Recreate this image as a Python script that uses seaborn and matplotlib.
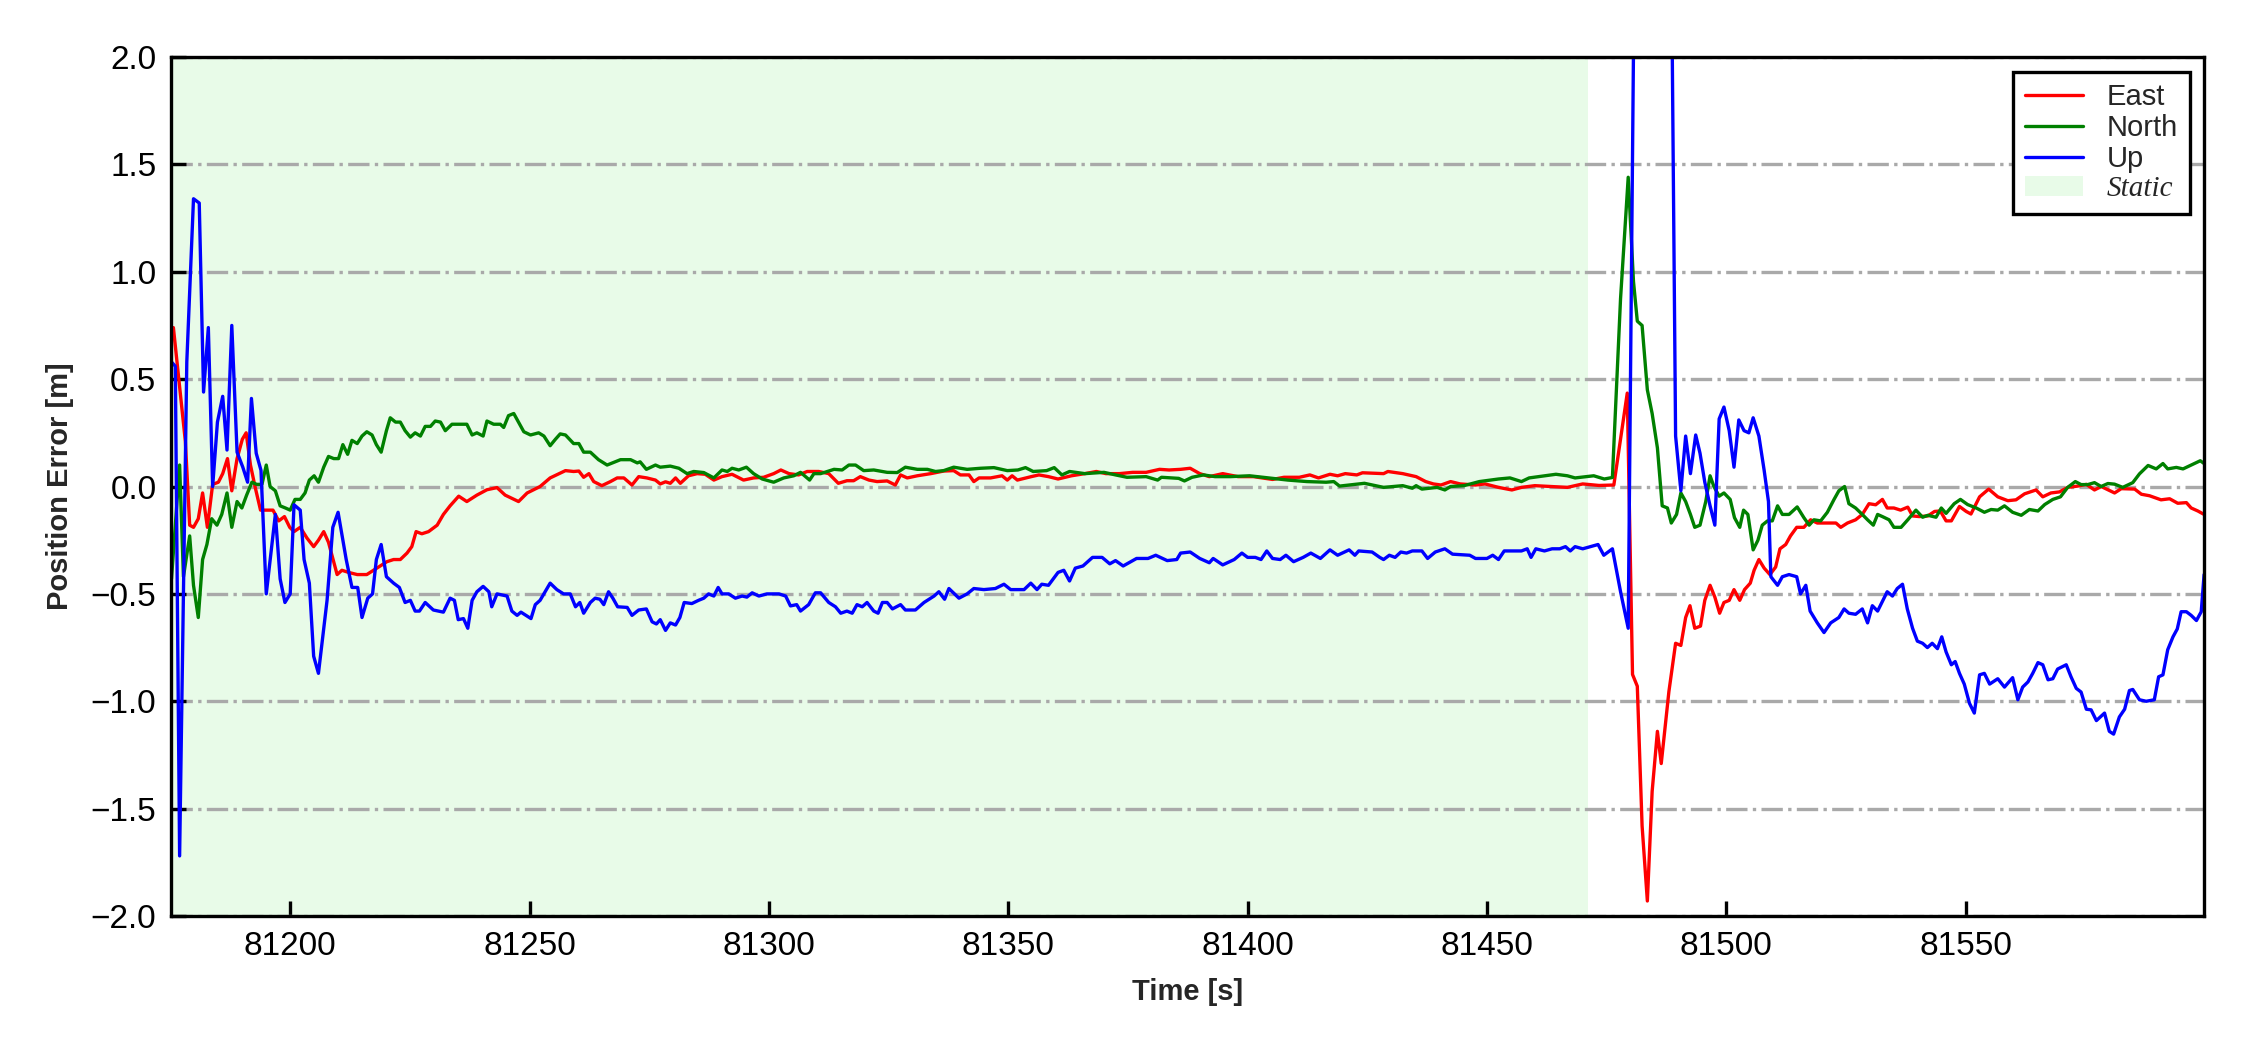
import matplotlib
matplotlib.use("Agg")
import matplotlib.pyplot as plt
import seaborn as sns

# East error
east_t = [81175.1, 81175.6, 81177.1, 81178.1, 81179.0, 81179.8, 81180.8, 81181.7, 81182.7, 81183.8,
          81185.0, 81185.9, 81186.9, 81187.8, 81188.9, 81190.0, 81190.8, 81191.7, 81192.7, 81193.8,
          81195.2, 81196.4, 81197.6, 81198.8, 81199.9, 81200.8, 81202.1, 81203.5, 81204.9, 81205.9,
          81207.0, 81208.0, 81209.8, 81210.8, 81212.2, 81214.0, 81216.0, 81217.4, 81218.8, 81220.2,
          81221.6, 81223.0, 81224.4, 81225.4, 81226.3, 81227.5, 81228.9, 81230.7, 81232.0, 81233.4,
          81235.2, 81236.9, 81239.0, 81241.1, 81243.2, 81244.9, 81247.7, 81249.5, 81252.2, 81254.3,
          81255.7, 81257.5, 81259.2, 81260.3, 81261.3, 81262.4, 81263.4, 81265.1, 81266.9, 81268.3,
          81269.7, 81271.4, 81272.8, 81274.5, 81276.3, 81277.3, 81278.4, 81279.4, 81280.5, 81281.5,
          81283.2, 81285.0, 81286.7, 81288.5, 81290.2, 81292.3, 81294.7, 81296.8, 81298.9, 81301.0,
          81302.5, 81304.2, 81306.2, 81308.0, 81310.4, 81312.5, 81314.5, 81316.3, 81317.7, 81319.1,
          81320.9, 81322.6, 81324.7, 81326.4, 81327.5, 81328.9, 81331.0, 81333.8, 81336.5, 81338.6,
          81340.0, 81341.8, 81342.8, 81343.9, 81346.3, 81348.7, 81349.8, 81350.8, 81351.9, 81354.8,
          81356.4, 81358.4, 81360.4, 81363.2, 81366.0, 81368.4, 81370.4, 81373.2, 81376.0, 81378.8,
          81381.6, 81383.6, 81386.0, 81388.0, 81390.0, 81392.0, 81394.8, 81398.0, 81401.2, 81405.2,
          81407.6, 81410.8, 81413.0, 81414.8, 81417.2, 81418.8, 81420.4, 81422.8, 81424.0, 81428.4,
          81429.3, 81432.4, 81435.2, 81437.2, 81438.8, 81440.4, 81442.4, 81444.4, 81447.6, 81449.6,
          81452.4, 81455.2, 81457.2, 81460.0, 81463.6, 81466.8, 81470.0, 81473.4, 81476.5, 81479.3,
          81480.4, 81481.4, 81482.4, 81483.5, 81484.5, 81485.6, 81486.4, 81488.0, 81489.4, 81490.5,
          81491.5, 81492.4, 81493.4, 81494.6, 81495.5, 81496.6, 81497.6, 81498.6, 81499.5, 81500.6,
          81501.6, 81502.8, 81503.8, 81505.0, 81505.8, 81506.8, 81507.9, 81509.1, 81510.3, 81511.2,
          81512.4, 81513.4, 81514.7, 81516.2, 81517.6, 81519.0, 81521.1, 81522.9, 81523.9, 81525.3,
          81527.0, 81528.4, 81529.8, 81531.2, 81532.6, 81533.6, 81535.0, 81536.4, 81537.9, 81538.9,
          81540.3, 81542.1, 81543.5, 81544.7, 81545.9, 81547.0, 81548.7, 81550.1, 81551.1, 81552.9,
          81554.8, 81556.7, 81558.8, 81560.5, 81562.3, 81564.7, 81566.1, 81567.8, 81569.6, 81571.3,
          81573.4, 81575.2, 81576.9, 81578.3, 81581.1, 81582.5, 81585.3, 81586.7, 81588.4, 81590.8,
          81592.6, 81594.3, 81596.1, 81597.1, 81598.5, 81599.8]
east_err = [0.72, 0.74, 0.42, 0.21, -0.18, -0.19, -0.15, -0.03, -0.19, 0.01,
            0.02, 0.06, 0.13, -0.02, 0.13, 0.22, 0.25, 0.10, -0.005, -0.11,
            -0.11, -0.11, -0.16, -0.14, -0.19, -0.21, -0.19, -0.24, -0.28, -0.25,
            -0.21, -0.26, -0.41, -0.39, -0.40, -0.41, -0.41, -0.39, -0.37, -0.35,
            -0.34, -0.34, -0.31, -0.28, -0.21, -0.22, -0.21, -0.18, -0.13, -0.09,
            -0.045, -0.07, -0.04, -0.015, -0.005, -0.04, -0.07, -0.03, 0.0, 0.04,
            0.055, 0.074, 0.07, 0.072, 0.043, 0.06, 0.023, 0.004, 0.023, 0.04,
            0.04, 0.007, 0.046, 0.04, 0.03, 0.012, 0.022, 0.015, 0.04, 0.015,
            0.05, 0.06, 0.057, 0.03, 0.046, 0.057, 0.03, 0.04, 0.043, 0.06,
            0.077, 0.06, 0.054, 0.07, 0.07, 0.06, 0.015, 0.027, 0.027, 0.046,
            0.03, 0.023, 0.026, 0.007, 0.054, 0.04, 0.05, 0.06, 0.072, 0.074,
            0.054, 0.054, 0.023, 0.04, 0.04, 0.05, 0.03, 0.05, 0.03, 0.046,
            0.054, 0.046, 0.035, 0.05, 0.06, 0.07, 0.06, 0.06, 0.066, 0.066,
            0.08, 0.077, 0.08, 0.085, 0.06, 0.046, 0.06, 0.046, 0.046, 0.033,
            0.043, 0.043, 0.054, 0.04, 0.057, 0.05, 0.06, 0.054, 0.064, 0.06,
            0.07, 0.06, 0.046, 0.023, 0.012, 0.007, 0.023, 0.012, 0.007, 0.012,
            -0.004, -0.016, -0.004, 0.004, 0.0, -0.004, 0.012, 0.005, 0.007, 0.435,
            -0.875, -0.93, -1.58, -1.93, -1.42, -1.14, -1.29, -0.955, -0.73, -0.74,
            -0.61, -0.555, -0.66, -0.65, -0.53, -0.46, -0.515, -0.59, -0.54, -0.53,
            -0.48, -0.53, -0.48, -0.45, -0.39, -0.34, -0.38, -0.41, -0.375, -0.29,
            -0.27, -0.23, -0.19, -0.19, -0.155, -0.17, -0.17, -0.17, -0.19, -0.17,
            -0.155, -0.13, -0.08, -0.085, -0.06, -0.10, -0.10, -0.11, -0.096, -0.137,
            -0.14, -0.137, -0.116, -0.114, -0.16, -0.16, -0.093, -0.116, -0.128, -0.048,
            -0.012, -0.048, -0.066, -0.062, -0.034, -0.016, -0.048, -0.03, -0.025, -0.004,
            0.002, 0.01, -0.016, 0.0, -0.03, -0.01, -0.012, -0.036, -0.043, -0.062,
            -0.057, -0.078, -0.075, -0.10, -0.114, -0.13]

# North error
north_t = [81175.2, 81176.9, 81177.7, 81179.0, 81179.8, 81180.8, 81181.7, 81182.6, 81183.6, 81184.7,
           81185.7, 81186.8, 81187.8, 81188.9, 81189.9, 81190.9, 81192.0, 81193.0, 81194.1, 81195.0,
           81195.8, 81196.9, 81197.9, 81199.0, 81200.0, 81201.0, 81202.1, 81203.1, 81204.0, 81205.0,
           81205.9, 81207.0, 81208.0, 81209.1, 81210.1, 81211.0, 81212.0, 81212.9, 81214.0, 81215.0,
           81216.0, 81217.1, 81218.0, 81219.0, 81220.1, 81220.9, 81222.0, 81223.0, 81224.0, 81225.1,
           81226.1, 81227.2, 81228.2, 81229.3, 81230.3, 81231.4, 81232.4, 81233.8, 81235.5, 81236.9,
           81238.0, 81239.0, 81240.3, 81241.1, 81242.5, 81243.9, 81244.6, 81245.6, 81246.7, 81247.7,
           81248.8, 81250.2, 81251.9, 81253.0, 81254.3, 81255.4, 81256.4, 81257.5, 81259.2, 81260.3,
           81261.3, 81262.7, 81264.4, 81266.2, 81267.9, 81269.0, 81271.1, 81272.5, 81273.1, 81274.4,
           81276.3, 81277.3, 81279.4, 81281.2, 81282.9, 81284.3, 81286.4, 81288.5, 81290.2, 81291.3,
           81292.3, 81293.7, 81295.3, 81296.8, 81298.6, 81301.0, 81303.1, 81305.2, 81306.6, 81308.5,
           81309.4, 81310.8, 81312.2, 81313.6, 81315.3, 81316.7, 81318.1, 81319.8, 81321.9, 81324.7,
           81326.8, 81328.5, 81331.0, 81333.1, 81334.8, 81336.5, 81338.6, 81341.4, 81344.2, 81347.0,
           81349.8, 81352.0, 81353.6, 81355.2, 81358.0, 81359.6, 81361.2, 81362.8, 81366.0, 81370.0,
           81372.4, 81374.8, 81378.8, 81381.2, 81382.0, 81385.6, 81386.8, 81388.4, 81390.8, 81393.2,
           81396.4, 81400.4, 81404.4, 81408.4, 81412.4, 81416.4, 81418.0, 81419.2, 81424.4, 81428.4,
           81432.4, 81434.4, 81435.2, 81436.4, 81439.6, 81441.2, 81442.4, 81445.2, 81448.4, 81452.4,
           81454.8, 81457.2, 81458.8, 81462.0, 81464.4, 81466.8, 81468.4, 81470.8, 81472.3, 81474.5,
           81476.2, 81477.9, 81479.5, 81480.6, 81481.4, 81482.4, 81483.5, 81484.5, 81485.6, 81486.6,
           81487.7, 81488.5, 81489.6, 81490.5, 81491.5, 81492.5, 81493.4, 81494.5, 81495.7, 81496.6,
           81497.4, 81498.5, 81499.5, 81500.8, 81501.7, 81502.8, 81503.6, 81504.5, 81505.6, 81506.6,
           81507.5, 81508.6, 81509.6, 81510.7, 81511.7, 81513.1, 81514.8, 81516.2, 81517.3, 81518.3,
           81519.7, 81521.1, 81522.5, 81523.5, 81524.7, 81525.6, 81527.0, 81528.4, 81529.5, 81530.7,
           81531.6, 81532.6, 81534.0, 81535.0, 81536.5, 81537.9, 81539.6, 81541.0, 81542.1, 81543.8,
           81544.9, 81545.9, 81547.6, 81548.9, 81550.4, 81552.2, 81553.9, 81555.3, 81556.7, 81558.1,
           81559.8, 81561.6, 81563.3, 81565.1, 81566.5, 81568.2, 81569.8, 81571.3, 81572.9, 81574.1,
           81575.5, 81576.9, 81578.3, 81579.7, 81581.1, 81582.8, 81584.9, 81586.3, 81588.1, 81589.8,
           81591.2, 81592.2, 81594.0, 81595.4, 81597.1, 81599.0, 81599.8]
north_err = [-0.43, 0.10, -0.42, -0.23, -0.46, -0.61, -0.34, -0.27, -0.15, -0.18,
             -0.13, -0.03, -0.19, -0.07, -0.10, -0.04, 0.02, 0.01, 0.01, 0.10,
             0.0, -0.02, -0.09, -0.10, -0.11, -0.06, -0.06, -0.03, 0.03, 0.05,
             0.02, 0.09, 0.14, 0.13, 0.13, 0.195, 0.15, 0.215, 0.20, 0.235,
             0.255, 0.24, 0.195, 0.16, 0.26, 0.32, 0.30, 0.30, 0.26, 0.23,
             0.25, 0.235, 0.28, 0.28, 0.305, 0.30, 0.26, 0.29, 0.29, 0.29,
             0.24, 0.25, 0.235, 0.305, 0.29, 0.29, 0.275, 0.33, 0.34, 0.30,
             0.255, 0.24, 0.25, 0.235, 0.19, 0.22, 0.245, 0.24, 0.20, 0.20,
             0.16, 0.16, 0.125, 0.10, 0.115, 0.125, 0.125, 0.11, 0.115, 0.08,
             0.10, 0.09, 0.095, 0.085, 0.06, 0.07, 0.065, 0.04, 0.077, 0.07,
             0.085, 0.077, 0.09, 0.06, 0.035, 0.02, 0.04, 0.05, 0.066, 0.03,
             0.06, 0.06, 0.07, 0.08, 0.077, 0.10, 0.10, 0.074, 0.077, 0.066,
             0.065, 0.09, 0.08, 0.08, 0.07, 0.074, 0.09, 0.08, 0.085, 0.088,
             0.074, 0.077, 0.088, 0.07, 0.074, 0.088, 0.054, 0.07, 0.06, 0.066,
             0.054, 0.043, 0.046, 0.03, 0.043, 0.038, 0.026, 0.043, 0.054, 0.046,
             0.046, 0.05, 0.04, 0.03, 0.023, 0.02, 0.023, 0.002, 0.015, -0.004,
             0.004, -0.008, 0.004, -0.012, -0.004, -0.016, 0.0, 0.004, 0.023, 0.035,
             0.04, 0.023, 0.04, 0.05, 0.057, 0.05, 0.04, 0.046, 0.05, 0.035,
             0.042, 0.875, 1.44, 0.955, 0.77, 0.75, 0.45, 0.34, 0.18, -0.09,
             -0.10, -0.17, -0.13, -0.03, -0.07, -0.13, -0.19, -0.18, -0.07, 0.05,
             0.0, -0.045, -0.03, -0.06, -0.145, -0.19, -0.11, -0.13, -0.295, -0.25,
             -0.18, -0.16, -0.16, -0.09, -0.13, -0.13, -0.095, -0.145, -0.18, -0.155,
             -0.16, -0.12, -0.06, -0.02, 0.0, -0.08, -0.10, -0.13, -0.155, -0.18,
             -0.13, -0.14, -0.155, -0.19, -0.19, -0.155, -0.11, -0.143, -0.134, -0.143,
             -0.10, -0.125, -0.08, -0.06, -0.084, -0.10, -0.12, -0.107, -0.11, -0.09,
             -0.12, -0.134, -0.107, -0.114, -0.084, -0.06, -0.048, -0.004, 0.023, 0.009,
             0.009, 0.018, 0.0, 0.014, 0.011, -0.004, 0.018, 0.059, 0.098, 0.082,
             0.107, 0.082, 0.089, 0.082, 0.10, 0.12, 0.107]

# Up error (runs off the top of the axes around 81481-81488)
up_t = [81175.2, 81176.0, 81176.9, 81178.4, 81179.8, 81181.0, 81181.9, 81182.9, 81183.8, 81184.8,
        81185.9, 81186.8, 81187.8, 81188.9, 81190.1, 81191.1, 81191.9, 81192.9, 81193.9, 81195.0,
        81196.9, 81197.9, 81198.9, 81200.0, 81200.8, 81202.1, 81202.9, 81204.0, 81204.9, 81205.9,
        81207.7, 81208.9, 81210.0, 81211.7, 81212.9, 81214.1, 81215.0, 81216.2, 81217.2, 81218.0,
        81219.0, 81220.1, 81221.6, 81222.8, 81224.0, 81225.1, 81226.1, 81227.0, 81228.2, 81229.9,
        81232.0, 81233.4, 81234.3, 81235.1, 81236.2, 81237.1, 81238.0, 81239.0, 81240.3, 81241.5,
        81242.1, 81243.2, 81245.3, 81246.3, 81247.4, 81248.2, 81250.3, 81251.2, 81252.2, 81254.3,
        81255.7, 81257.1, 81258.5, 81259.6, 81260.5, 81261.3, 81262.7, 81263.7, 81264.7, 81265.5,
        81266.5, 81267.4, 81268.4, 81270.4, 81271.4, 81272.8, 81274.4, 81275.6, 81276.5, 81277.3,
        81278.4, 81279.4, 81280.5, 81281.4, 81282.3, 81283.9, 81285.3, 81286.4, 81287.4, 81288.5,
        81289.4, 81290.2, 81291.6, 81293.0, 81294.4, 81295.4, 81296.5, 81297.9, 81299.6, 81302.1,
        81303.5, 81304.5, 81305.8, 81306.6, 81308.3, 81309.7, 81310.8, 81312.5, 81313.9, 81315.0,
        81316.3, 81317.4, 81318.4, 81319.5, 81320.5, 81321.9, 81322.8, 81323.7, 81324.7, 81325.8,
        81327.5, 81328.5, 81330.6, 81332.4, 81334.5, 81335.5, 81336.7, 81337.6, 81339.7, 81341.4,
        81342.8, 81344.9, 81347.3, 81349.1, 81350.5, 81353.3, 81354.7, 81356.0, 81357.0, 81358.4,
        81360.4, 81361.6, 81362.8, 81364.0, 81365.6, 81367.6, 81369.6, 81371.2, 81372.4, 81374.0,
        81376.8, 81379.2, 81380.8, 81383.2, 81385.2, 81386.0, 81388.0, 81390.0, 81392.0, 81392.8,
        81394.8, 81397.2, 81398.8, 81400.0, 81401.6, 81402.8, 81404.0, 81405.2, 81406.8, 81408.0,
        81409.6, 81411.6, 81413.2, 81415.2, 81417.2, 81418.8, 81421.2, 81422.4, 81423.2, 81426.0,
        81427.6, 81428.4, 81429.6, 81430.8, 81432.0, 81433.2, 81434.4, 81436.4, 81437.6, 81439.2,
        81441.2, 81442.8, 81446.4, 81447.6, 81450.0, 81451.2, 81452.4, 81453.6, 81457.2, 81458.4,
        81459.2, 81460.2, 81462.0, 81463.6, 81465.2, 81466.4, 81467.4, 81468.4, 81470.0, 81471.6,
        81473.2, 81474.4, 81476.2, 81477.9, 81479.5, 81481.0, 81483.0, 81485.0, 81487.0, 81488.4,
        81489.4, 81490.5, 81491.5, 81492.5, 81493.6, 81494.5, 81495.5, 81496.6, 81497.6, 81498.5,
        81499.5, 81500.6, 81501.6, 81502.6, 81503.7, 81504.7, 81505.6, 81506.8, 81507.9, 81508.8,
        81509.3, 81510.7, 81511.7, 81513.1, 81514.7, 81515.5, 81516.6, 81517.5, 81519.0, 81520.4,
        81521.8, 81523.5, 81524.6, 81525.6, 81527.0, 81528.4, 81529.5, 81530.5, 81531.6, 81532.6,
        81533.6, 81534.7, 81535.7, 81536.8, 81537.8, 81538.9, 81539.9, 81541.0, 81542.0, 81543.0,
        81544.1, 81545.0, 81545.9, 81547.0, 81547.8, 81548.7, 81549.7, 81550.8, 81551.8, 81552.9,
        81553.9, 81555.0, 81556.7, 81558.1, 81559.8, 81560.9, 81561.9, 81563.0, 81564.0, 81565.1,
        81566.1, 81567.2, 81568.2, 81569.2, 81571.0, 81572.0, 81573.1, 81574.1, 81575.2, 81576.2,
        81577.3, 81579.0, 81580.0, 81580.9, 81582.1, 81583.2, 81584.2, 81584.9, 81586.3, 81587.7,
        81589.4, 81590.3, 81591.2, 81592.2, 81593.3, 81594.2, 81595.0, 81596.1, 81597.1, 81598.2,
        81599.2, 81599.8]
up_err = [0.58, 0.56, -1.72, 0.58, 1.34, 1.32, 0.44, 0.74, 0.0, 0.30,
          0.42, 0.17, 0.75, 0.16, 0.09, 0.02, 0.41, 0.155, 0.075, -0.50,
          -0.13, -0.43, -0.54, -0.50, -0.085, -0.11, -0.34, -0.45, -0.79, -0.87,
          -0.53, -0.19, -0.12, -0.34, -0.47, -0.47, -0.61, -0.52, -0.50, -0.34,
          -0.27, -0.42, -0.45, -0.47, -0.54, -0.53, -0.58, -0.58, -0.54, -0.575,
          -0.585, -0.52, -0.53, -0.62, -0.615, -0.66, -0.53, -0.49, -0.465, -0.49,
          -0.56, -0.50, -0.51, -0.58, -0.60, -0.585, -0.615, -0.55, -0.53, -0.45,
          -0.48, -0.50, -0.50, -0.56, -0.54, -0.59, -0.54, -0.52, -0.525, -0.55,
          -0.49, -0.52, -0.56, -0.563, -0.60, -0.575, -0.57, -0.63, -0.64, -0.62,
          -0.67, -0.635, -0.645, -0.61, -0.54, -0.545, -0.53, -0.52, -0.50, -0.51,
          -0.47, -0.50, -0.50, -0.52, -0.51, -0.515, -0.495, -0.51, -0.50, -0.50,
          -0.51, -0.556, -0.55, -0.58, -0.55, -0.495, -0.495, -0.54, -0.56, -0.59,
          -0.58, -0.59, -0.55, -0.56, -0.54, -0.58, -0.59, -0.54, -0.54, -0.57,
          -0.55, -0.575, -0.575, -0.54, -0.51, -0.49, -0.525, -0.475, -0.52, -0.50,
          -0.475, -0.48, -0.475, -0.455, -0.48, -0.48, -0.45, -0.48, -0.455, -0.46,
          -0.40, -0.39, -0.44, -0.38, -0.37, -0.33, -0.33, -0.36, -0.345, -0.37,
          -0.335, -0.335, -0.32, -0.345, -0.34, -0.31, -0.305, -0.335, -0.355, -0.335,
          -0.365, -0.34, -0.31, -0.33, -0.33, -0.34, -0.30, -0.335, -0.34, -0.32,
          -0.35, -0.33, -0.31, -0.335, -0.295, -0.32, -0.295, -0.32, -0.30, -0.305,
          -0.33, -0.34, -0.32, -0.33, -0.305, -0.31, -0.30, -0.30, -0.335, -0.305,
          -0.29, -0.315, -0.32, -0.335, -0.335, -0.32, -0.34, -0.30, -0.30, -0.29,
          -0.33, -0.29, -0.30, -0.29, -0.29, -0.28, -0.30, -0.28, -0.29, -0.28,
          -0.27, -0.32, -0.29, -0.49, -0.66, 3.0, 4.0, 4.2, 3.8, 2.8,
          0.235, -0.02, 0.235, 0.06, 0.24, 0.155, 0.02, -0.09, -0.18, 0.315,
          0.37, 0.26, 0.09, 0.31, 0.26, 0.25, 0.32, 0.235, 0.075, -0.07,
          -0.42, -0.46, -0.42, -0.41, -0.42, -0.50, -0.46, -0.58, -0.635, -0.68,
          -0.635, -0.61, -0.57, -0.59, -0.595, -0.57, -0.635, -0.555, -0.58, -0.535,
          -0.49, -0.51, -0.475, -0.455, -0.57, -0.66, -0.72, -0.73, -0.75, -0.73,
          -0.755, -0.70, -0.77, -0.83, -0.815, -0.87, -0.92, -1.01, -1.055, -0.877,
          -0.87, -0.92, -0.895, -0.934, -0.89, -0.993, -0.934, -0.91, -0.87, -0.82,
          -0.83, -0.90, -0.895, -0.85, -0.83, -0.886, -0.94, -0.957, -1.037, -1.04,
          -1.09, -1.055, -1.14, -1.153, -1.073, -1.037, -0.95, -0.945, -0.993, -1.0,
          -0.993, -0.886, -0.877, -0.76, -0.70, -0.663, -0.583, -0.583, -0.60, -0.624,
          -0.583, -0.41]

static_period = [81175.1, 81471.0]
time_range = [81175.1, 81599.8]
error_range = [-2.0, 2.0]

sns.set_style("ticks")
plt.rcParams['font.family'] = ['Liberation Sans', 'DejaVu Sans']

fig, ax = plt.subplots(figsize=(7.5, 3.5), dpi=300)
fig.subplots_adjust(left=0.076, right=0.9796, bottom=0.1276, top=0.9457)

ax.axvspan(static_period[0], static_period[1], color='lightgreen', alpha=0.2, lw=0,
           label='Static', zorder=0)
sns.lineplot(x=east_t, y=east_err, color='red', lw=0.8, label='East', ax=ax,
             estimator=None, sort=False)
sns.lineplot(x=north_t, y=north_err, color='green', lw=0.8, label='North', ax=ax,
             estimator=None, sort=False)
sns.lineplot(x=up_t, y=up_err, color='blue', lw=0.8, label='Up', ax=ax,
             estimator=None, sort=False)

ax.set_xlim(time_range)
ax.set_ylim(error_range)
ax.set_axisbelow(True)
ax.yaxis.grid(True, linestyle='-.', color='darkgray', lw=0.8)
ax.xaxis.grid(False)

for s in ax.spines.values():
    s.set_visible(True)
    s.set_color('black')
    s.set_linewidth(0.8)
ax.tick_params(direction='in', length=3.5, width=0.8, labelsize=8, colors='black',
               top=False, right=False)

ax.set_xlabel('Time [s]', fontsize=7, fontweight='bold')
ax.set_ylabel('Position Error [m]', fontsize=7, fontweight='bold')

handles, labels = ax.get_legend_handles_labels()
order = [labels.index(n) for n in ['East', 'North', 'Up', 'Static']]
leg = ax.legend([handles[i] for i in order], [labels[i] for i in order],
                loc='upper right', fontsize=7, fancybox=False, framealpha=1,
                edgecolor='black', labelspacing=0.1, borderpad=0.4)
leg.get_frame().set_linewidth(0.8)
static_txt = leg.get_texts()[3]
static_txt.set_family('Liberation Serif')
static_txt.set_style('italic')

plt.savefig('out.png', dpi=300)
